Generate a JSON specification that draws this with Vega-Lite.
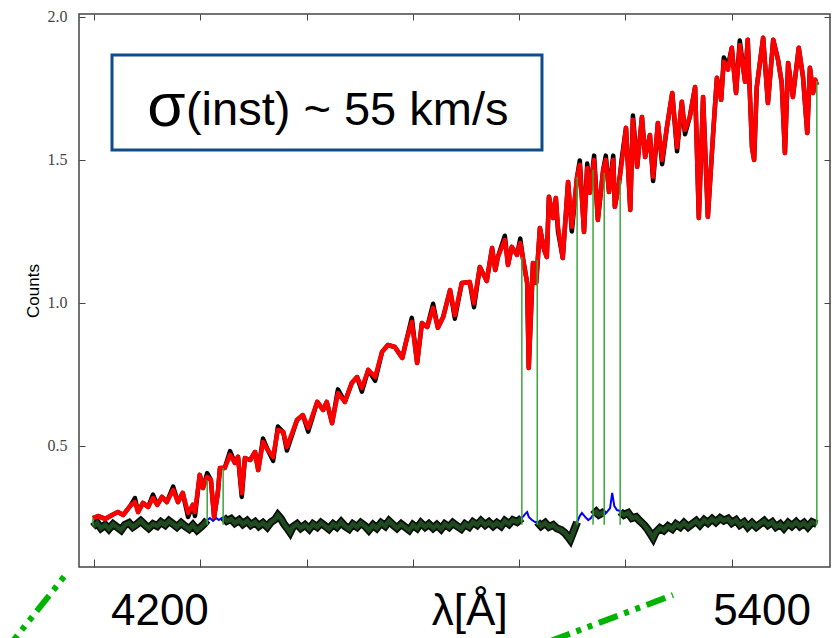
{
"$schema": "https://vega.github.io/schema/vega-lite/v6.json",
"width": 751, "height": 553,
"autosize": {"type": "none"},
"padding": {"left": 79, "top": 14, "right": 2, "bottom": 71},
"background": "white",
"config": {"view": {"stroke": "#444", "strokeWidth": 1.5}, "axis": {"domain": false, "grid": false}},
"datasets": {
"spec": [
{"x":-2,"y":0.248,"g":0.248},{"x":8,"y":0.255,"g":0.255},{"x":21,"y":0.245,"g":0.245},{"x":34,"y":0.259,"g":0.259},{"x":45,"y":0.269,"g":0.269},{"x":55,"y":0.259,"g":0.259},{"x":68,"y":0.290,"g":0.290},{"x":77,"y":0.304,"g":0.318},{"x":83,"y":0.269,"g":0.269},{"x":92,"y":0.301,"g":0.301},{"x":102,"y":0.287,"g":0.287},{"x":111,"y":0.318,"g":0.330},{"x":119,"y":0.294,"g":0.294},{"x":128,"y":0.322,"g":0.322},{"x":137,"y":0.304,"g":0.304},{"x":149,"y":0.346,"g":0.358},{"x":158,"y":0.304,"g":0.304},{"x":167,"y":0.336,"g":0.336},{"x":177,"y":0.266,"g":0.252},{"x":186,"y":0.294,"g":0.294},{"x":190,"y":0.269,"g":0.255},{"x":199,"y":0.399,"g":0.399},{"x":205,"y":0.353,"g":0.353},{"x":213,"y":0.392,"g":0.405},{"x":220,"y":0.381,"g":0.381},{"x":226,"y":0.252,"g":0.252},{"x":233,"y":0.336,"g":0.336},{"x":237,"y":0.423,"g":0.423},{"x":246,"y":0.423,"g":0.423},{"x":256,"y":0.469,"g":0.482},{"x":265,"y":0.441,"g":0.441},{"x":271,"y":0.462,"g":0.462},{"x":278,"y":0.336,"g":0.322},{"x":284,"y":0.458,"g":0.458},{"x":294,"y":0.451,"g":0.451},{"x":303,"y":0.479,"g":0.479},{"x":309,"y":0.416,"g":0.416},{"x":318,"y":0.514,"g":0.526},{"x":327,"y":0.486,"g":0.486},{"x":337,"y":0.462,"g":0.448},{"x":346,"y":0.556,"g":0.568},{"x":356,"y":0.549,"g":0.549},{"x":363,"y":0.497,"g":0.484},{"x":382,"y":0.591,"g":0.591},{"x":393,"y":0.608,"g":0.608},{"x":403,"y":0.563,"g":0.550},{"x":420,"y":0.654,"g":0.654},{"x":431,"y":0.626,"g":0.626},{"x":438,"y":0.654,"g":0.654},{"x":448,"y":0.580,"g":0.580},{"x":459,"y":0.685,"g":0.698},{"x":472,"y":0.654,"g":0.654},{"x":485,"y":0.720,"g":0.720},{"x":495,"y":0.741,"g":0.741},{"x":504,"y":0.703,"g":0.690},{"x":516,"y":0.766,"g":0.766},{"x":529,"y":0.741,"g":0.728},{"x":542,"y":0.829,"g":0.829},{"x":553,"y":0.853,"g":0.853},{"x":566,"y":0.846,"g":0.846},{"x":580,"y":0.808,"g":0.808},{"x":589,"y":0.878,"g":0.878},{"x":598,"y":0.934,"g":0.948},{"x":608,"y":0.790,"g":0.790},{"x":617,"y":0.930,"g":0.930},{"x":627,"y":0.916,"g":0.916},{"x":638,"y":0.983,"g":0.997},{"x":647,"y":0.913,"g":0.913},{"x":657,"y":0.951,"g":0.951},{"x":670,"y":1.045,"g":1.045},{"x":679,"y":0.958,"g":0.945},{"x":692,"y":1.070,"g":1.070},{"x":707,"y":1.073,"g":1.073},{"x":715,"y":1.000,"g":0.985},{"x":726,"y":1.126,"g":1.126},{"x":739,"y":1.077,"g":1.077},{"x":749,"y":1.192,"g":1.192},{"x":755,"y":1.115,"g":1.115},{"x":760,"y":1.161,"g":1.161},{"x":773,"y":1.220,"g":1.235},{"x":779,"y":1.133,"g":1.133},{"x":786,"y":1.196,"g":1.196},{"x":796,"y":1.168,"g":1.168},{"x":802,"y":1.210,"g":1.225},{"x":807,"y":1.157,"g":1.157},{"x":815,"y":1.070,"g":1.070},{"x":818,"y":0.773,"g":0.773},{"x":826,"y":1.140,"g":1.140},{"x":832,"y":1.070,"g":1.070},{"x":839,"y":1.262,"g":1.262},{"x":847,"y":1.185,"g":1.185},{"x":852,"y":1.161,"g":1.161},{"x":856,"y":1.371,"g":1.371},{"x":864,"y":1.297,"g":1.297},{"x":869,"y":1.367,"g":1.367},{"x":873,"y":1.266,"g":1.250},{"x":882,"y":1.157,"g":1.157},{"x":892,"y":1.423,"g":1.423},{"x":899,"y":1.266,"g":1.250},{"x":909,"y":1.441,"g":1.441},{"x":914,"y":1.483,"g":1.498},{"x":922,"y":1.248,"g":1.248},{"x":928,"y":1.472,"g":1.487},{"x":933,"y":1.385,"g":1.385},{"x":941,"y":1.500,"g":1.515},{"x":948,"y":1.290,"g":1.290},{"x":958,"y":1.465,"g":1.465},{"x":963,"y":1.500,"g":1.515},{"x":969,"y":1.388,"g":1.388},{"x":977,"y":1.500,"g":1.515},{"x":980,"y":1.336,"g":1.336},{"x":988,"y":1.420,"g":1.420},{"x":993,"y":1.490,"g":1.505},{"x":1001,"y":1.612,"g":1.612},{"x":1009,"y":1.325,"g":1.325},{"x":1014,"y":1.640,"g":1.655},{"x":1022,"y":1.476,"g":1.476},{"x":1031,"y":1.650,"g":1.650},{"x":1037,"y":1.510,"g":1.510},{"x":1046,"y":1.587,"g":1.587},{"x":1052,"y":1.441,"g":1.426},{"x":1061,"y":1.629,"g":1.629},{"x":1069,"y":1.500,"g":1.485},{"x":1078,"y":1.615,"g":1.615},{"x":1088,"y":1.734,"g":1.734},{"x":1097,"y":1.545,"g":1.530},{"x":1106,"y":1.703,"g":1.703},{"x":1112,"y":1.605,"g":1.590},{"x":1121,"y":1.650,"g":1.650},{"x":1131,"y":1.755,"g":1.755},{"x":1138,"y":1.297,"g":1.297},{"x":1146,"y":1.720,"g":1.720},{"x":1155,"y":1.301,"g":1.301},{"x":1165,"y":1.594,"g":1.594},{"x":1172,"y":1.787,"g":1.787},{"x":1180,"y":1.710,"g":1.710},{"x":1185,"y":1.843,"g":1.858},{"x":1193,"y":1.815,"g":1.830},{"x":1200,"y":1.892,"g":1.892},{"x":1208,"y":1.734,"g":1.734},{"x":1215,"y":1.902,"g":1.917},{"x":1225,"y":1.773,"g":1.773},{"x":1230,"y":1.920,"g":1.920},{"x":1238,"y":1.545,"g":1.545},{"x":1242,"y":1.500,"g":1.500},{"x":1247,"y":1.755,"g":1.755},{"x":1259,"y":1.927,"g":1.927},{"x":1268,"y":1.699,"g":1.699},{"x":1278,"y":1.920,"g":1.920},{"x":1287,"y":1.850,"g":1.850},{"x":1294,"y":1.769,"g":1.769},{"x":1300,"y":1.524,"g":1.524},{"x":1306,"y":1.839,"g":1.839},{"x":1315,"y":1.720,"g":1.720},{"x":1326,"y":1.892,"g":1.892},{"x":1334,"y":1.790,"g":1.790},{"x":1342,"y":1.594,"g":1.594},{"x":1347,"y":1.822,"g":1.822},{"x":1353,"y":1.734,"g":1.734},{"x":1357,"y":1.780,"g":1.780},{"x":1360,"y":1.762,"g":1.762}
],
"res": [
{"x":-2,"y":0.217,"s":1},{"x":6,"y":0.231,"s":1},{"x":13,"y":0.213,"s":1},{"x":21,"y":0.224,"s":1},{"x":28,"y":0.210,"s":1},{"x":36,"y":0.227,"s":1},{"x":43,"y":0.217,"s":1},{"x":51,"y":0.206,"s":1},{"x":58,"y":0.224,"s":1},{"x":66,"y":0.231,"s":1},{"x":73,"y":0.217,"s":1},{"x":81,"y":0.227,"s":1},{"x":88,"y":0.238,"s":1},{"x":96,"y":0.224,"s":1},{"x":103,"y":0.213,"s":1},{"x":111,"y":0.227,"s":1},{"x":119,"y":0.220,"s":1},{"x":126,"y":0.234,"s":1},{"x":134,"y":0.224,"s":1},{"x":141,"y":0.238,"s":1},{"x":149,"y":0.227,"s":1},{"x":156,"y":0.217,"s":1},{"x":164,"y":0.231,"s":1},{"x":171,"y":0.220,"s":1},{"x":179,"y":0.210,"s":1},{"x":186,"y":0.224,"s":1},{"x":194,"y":0.206,"s":1},{"x":201,"y":0.217,"s":1},{"x":207,"y":0.227,"s":1},{"x":213,"y":0.241,"s":1},
{"x":243,"y":0.252,"s":2},{"x":250,"y":0.238,"s":2},{"x":258,"y":0.245,"s":2},{"x":265,"y":0.231,"s":2},{"x":273,"y":0.241,"s":2},{"x":280,"y":0.227,"s":2},{"x":288,"y":0.238,"s":2},{"x":295,"y":0.224,"s":2},{"x":303,"y":0.234,"s":2},{"x":310,"y":0.220,"s":2},{"x":318,"y":0.231,"s":2},{"x":326,"y":0.217,"s":2},{"x":333,"y":0.234,"s":2},{"x":341,"y":0.244,"s":2},{"x":346,"y":0.258,"s":2},{"x":352,"y":0.245,"s":2},{"x":357,"y":0.229,"s":2},{"x":363,"y":0.214,"s":2},{"x":369,"y":0.198,"s":2},{"x":374,"y":0.217,"s":2},{"x":382,"y":0.227,"s":2},{"x":389,"y":0.213,"s":2},{"x":397,"y":0.224,"s":2},{"x":405,"y":0.210,"s":2},{"x":412,"y":0.227,"s":2},{"x":420,"y":0.217,"s":2},{"x":427,"y":0.231,"s":2},{"x":435,"y":0.220,"s":2},{"x":442,"y":0.210,"s":2},{"x":450,"y":0.227,"s":2},{"x":457,"y":0.217,"s":2},{"x":465,"y":0.234,"s":2},{"x":472,"y":0.220,"s":2},{"x":480,"y":0.210,"s":2},{"x":487,"y":0.227,"s":2},{"x":495,"y":0.217,"s":2},{"x":502,"y":0.231,"s":2},{"x":510,"y":0.220,"s":2},{"x":517,"y":0.206,"s":2},{"x":525,"y":0.224,"s":2},{"x":532,"y":0.213,"s":2},{"x":540,"y":0.231,"s":2},{"x":548,"y":0.220,"s":2},{"x":555,"y":0.238,"s":2},{"x":563,"y":0.224,"s":2},{"x":570,"y":0.213,"s":2},{"x":578,"y":0.227,"s":2},{"x":585,"y":0.217,"s":2},{"x":593,"y":0.206,"s":2},{"x":600,"y":0.224,"s":2},{"x":608,"y":0.213,"s":2},{"x":615,"y":0.231,"s":2},{"x":623,"y":0.217,"s":2},{"x":630,"y":0.227,"s":2},{"x":638,"y":0.213,"s":2},{"x":645,"y":0.224,"s":2},{"x":653,"y":0.210,"s":2},{"x":660,"y":0.227,"s":2},{"x":668,"y":0.217,"s":2},{"x":675,"y":0.231,"s":2},{"x":683,"y":0.220,"s":2},{"x":691,"y":0.210,"s":2},{"x":698,"y":0.227,"s":2},{"x":706,"y":0.217,"s":2},{"x":713,"y":0.234,"s":2},{"x":721,"y":0.224,"s":2},{"x":728,"y":0.238,"s":2},{"x":736,"y":0.224,"s":2},{"x":743,"y":0.234,"s":2},{"x":751,"y":0.220,"s":2},{"x":758,"y":0.231,"s":2},{"x":766,"y":0.220,"s":2},{"x":773,"y":0.238,"s":2},{"x":781,"y":0.227,"s":2},{"x":788,"y":0.241,"s":2},{"x":796,"y":0.234,"s":2},{"x":805,"y":0.248,"s":2},
{"x":834,"y":0.234,"s":3},{"x":841,"y":0.220,"s":3},{"x":849,"y":0.231,"s":3},{"x":856,"y":0.217,"s":3},{"x":864,"y":0.224,"s":3},{"x":871,"y":0.212,"s":3},{"x":879,"y":0.206,"s":3},{"x":886,"y":0.196,"s":3},{"x":892,"y":0.182,"s":3},{"x":896,"y":0.172,"s":3},{"x":899,"y":0.186,"s":3},{"x":905,"y":0.215,"s":3},{"x":909,"y":0.234,"s":3},
{"x":939,"y":0.259,"s":4},{"x":945,"y":0.270,"s":4},{"x":950,"y":0.260,"s":4},{"x":956,"y":0.266,"s":4},{"x":960,"y":0.259,"s":4},
{"x":990,"y":0.270,"s":5},{"x":997,"y":0.259,"s":5},{"x":1005,"y":0.266,"s":5},{"x":1012,"y":0.248,"s":5},{"x":1020,"y":0.252,"s":5},{"x":1027,"y":0.238,"s":5},{"x":1035,"y":0.224,"s":5},{"x":1042,"y":0.208,"s":5},{"x":1048,"y":0.190,"s":5},{"x":1052,"y":0.178,"s":5},{"x":1057,"y":0.198,"s":5},{"x":1065,"y":0.213,"s":5},{"x":1072,"y":0.205,"s":5},{"x":1080,"y":0.220,"s":5},{"x":1088,"y":0.210,"s":5},{"x":1095,"y":0.227,"s":5},{"x":1103,"y":0.217,"s":5},{"x":1110,"y":0.231,"s":5},{"x":1118,"y":0.217,"s":5},{"x":1125,"y":0.227,"s":5},{"x":1133,"y":0.238,"s":5},{"x":1140,"y":0.224,"s":5},{"x":1148,"y":0.241,"s":5},{"x":1155,"y":0.231,"s":5},{"x":1163,"y":0.245,"s":5},{"x":1170,"y":0.234,"s":5},{"x":1178,"y":0.248,"s":5},{"x":1185,"y":0.239,"s":5},{"x":1193,"y":0.246,"s":5},{"x":1200,"y":0.231,"s":5},{"x":1208,"y":0.241,"s":5},{"x":1215,"y":0.224,"s":5},{"x":1223,"y":0.234,"s":5},{"x":1230,"y":0.217,"s":5},{"x":1238,"y":0.231,"s":5},{"x":1246,"y":0.217,"s":5},{"x":1253,"y":0.227,"s":5},{"x":1261,"y":0.238,"s":5},{"x":1268,"y":0.224,"s":5},{"x":1276,"y":0.234,"s":5},{"x":1283,"y":0.217,"s":5},{"x":1291,"y":0.227,"s":5},{"x":1298,"y":0.213,"s":5},{"x":1306,"y":0.231,"s":5},{"x":1313,"y":0.220,"s":5},{"x":1321,"y":0.234,"s":5},{"x":1328,"y":0.220,"s":5},{"x":1336,"y":0.231,"s":5},{"x":1343,"y":0.217,"s":5},{"x":1351,"y":0.234,"s":5},{"x":1360,"y":0.227,"s":5}
],
"blue": [
{"x":213,"y":0.241,"s":1},{"x":218,"y":0.248,"s":1},{"x":224,"y":0.238,"s":1},{"x":230,"y":0.248,"s":1},{"x":235,"y":0.241,"s":1},{"x":243,"y":0.252,"s":1},
{"x":805,"y":0.248,"s":2},{"x":811,"y":0.262,"s":2},{"x":815,"y":0.269,"s":2},{"x":818,"y":0.252,"s":2},{"x":824,"y":0.241,"s":2},{"x":830,"y":0.234,"s":2},{"x":834,"y":0.234,"s":2},
{"x":909,"y":0.234,"s":3},{"x":914,"y":0.255,"s":3},{"x":918,"y":0.266,"s":3},{"x":924,"y":0.252,"s":3},{"x":930,"y":0.241,"s":3},{"x":935,"y":0.248,"s":3},{"x":939,"y":0.259,"s":3},
{"x":960,"y":0.259,"s":4},{"x":965,"y":0.269,"s":4},{"x":971,"y":0.283,"s":4},{"x":975,"y":0.336,"s":4},{"x":979,"y":0.290,"s":4},{"x":984,"y":0.276,"s":4},{"x":990,"y":0.273,"s":4}
],
"rules": [
{"x":-2,"y":0.225,"y2":0.248},{"x":213,"y":0.225,"y2":0.381},{"x":243,"y":0.225,"y2":0.423},{"x":805,"y":0.225,"y2":1.161},{"x":834,"y":0.225,"y2":1.150},{"x":909,"y":0.225,"y2":1.441},{"x":939,"y":0.225,"y2":1.465},{"x":960,"y":0.225,"y2":1.455},{"x":990,"y":0.225,"y2":1.430},{"x":1360,"y":0.225,"y2":1.776}
],
"box": [{"x":33.9,"x2":842.9,"y":1.535,"y2":1.867}],
"sig": [{"x":100,"y":1.618,"t":"σ"}],
"inst": [{"x":173,"y":1.622,"t":"(inst) ~ 55 km/s"}],
"lab": [{"x":124,"y":-0.126,"t":"4200"},{"x":707,"y":-0.126,"t":"λ[Å]"},{"x":1257,"y":-0.126,"t":"5400"}],
"dash": [
{"x":-167.5,"y":-0.217,"k":"L"},{"x":-50.8,"y":0.056,"k":"L"},
{"x":860,"y":-0.181,"k":"R"},{"x":1089.4,"y":-0.021,"k":"R"}
]
},
"encoding": {
"x": {"field": "x", "type": "quantitative", "scale": {"domain": [-28.2, 1384.8], "nice": false, "zero": false}, "axis": null},
"y": {"field": "y", "type": "quantitative", "scale": {"domain": [0.077, 2.01], "nice": false, "zero": false}, "axis": null}
},
"layer": [
{"data": {"name": "res"}, "mark": {"type": "line", "color": "#0a0f0a", "strokeWidth": 8, "strokeJoin": "miter"},
 "encoding": {
  "x": {"field": "x", "type": "quantitative", "scale": {"domain": [-28.2, 1384.8], "nice": false, "zero": false},
        "axis": {"orient": "bottom", "values": [0,200,400,600,800,1000,1200], "labels": false, "ticks": true, "tickSize": -8, "tickColor": "#444", "tickWidth": 1, "title": null, "domain": false}},
  "y": {"field": "y", "type": "quantitative", "scale": {"domain": [0.077, 2.01], "nice": false, "zero": false},
        "axis": {"orient": "left", "values": [0.5,1,1.5,2], "format": ".1f", "ticks": true, "tickSize": -6, "tickColor": "#444", "labelPadding": 18, "labelFont": "Liberation Serif", "labelFontSize": 16, "labelColor": "#444", "title": "Counts", "titleFont": "Liberation Sans", "titleFontSize": 17, "titleFontWeight": "normal", "titleColor": "#000", "titlePadding": 5, "domain": false}},
  "detail": {"field": "s"}
 }},
{"data": {"name": "res"}, "mark": {"type": "line", "color": "#1f4a1f", "strokeWidth": 4.5, "strokeJoin": "miter"},
 "encoding": {"detail": {"field": "s"}}},
{"data": {"name": "blue"}, "mark": {"type": "line", "color": "#0000ff", "strokeWidth": 2},
 "encoding": {"detail": {"field": "s"}}},
{"data": {"name": "spec"}, "mark": {"type": "line", "color": "#000", "strokeWidth": 4.5, "strokeJoin": "round"},
 "encoding": {"y": {"field": "g", "type": "quantitative", "scale": {"domain": [0.077, 2.01], "nice": false, "zero": false}, "axis": null}}},
{"data": {"name": "spec"}, "mark": {"type": "line", "color": "#ff0000", "strokeWidth": 4.5, "strokeJoin": "round"},
 "encoding": {}},
{"data": {"name": "rules"}, "mark": {"type": "rule", "color": "#3aa53a", "strokeWidth": 1.5},
 "encoding": {
  "x": {"field": "x", "type": "quantitative", "scale": {"domain": [-28.2, 1384.8], "nice": false, "zero": false},
        "axis": {"orient": "top", "values": [0,200,400,600,800,1000,1200], "labels": false, "ticks": true, "tickSize": -6, "tickColor": "#444", "title": null, "domain": false}},
  "y": {"field": "y", "type": "quantitative", "scale": {"domain": [0.077, 2.01], "nice": false, "zero": false},
        "axis": {"orient": "right", "values": [0.5,1,1.5,2], "labels": false, "ticks": true, "tickSize": -6, "tickColor": "#444", "title": null, "domain": false}},
  "y2": {"field": "y2"}
 }},
{"data": {"name": "box"}, "mark": {"type": "rect", "fill": "white", "stroke": "#0f4c8a", "strokeWidth": 3},
 "encoding": {"x2": {"field": "x2"}, "y2": {"field": "y2"}}},
{"data": {"name": "sig"}, "mark": {"type": "text", "font": "Liberation Sans", "fontSize": 62, "align": "left", "baseline": "alphabetic", "color": "#000"},
 "encoding": {"text": {"field": "t"}}},
{"data": {"name": "inst"}, "mark": {"type": "text", "font": "Liberation Sans", "fontSize": 47, "align": "left", "baseline": "alphabetic", "color": "#000"},
 "encoding": {"text": {"field": "t"}}},
{"data": {"name": "lab"}, "mark": {"type": "text", "font": "Liberation Sans", "fontSize": 44, "align": "center", "baseline": "alphabetic", "color": "#000"},
 "encoding": {"text": {"field": "t"}}},
{"data": {"name": "dash"}, "mark": {"type": "line", "color": "#00b400", "strokeWidth": 6, "strokeDash": [20, 7, 5, 7, 5, 7], "strokeCap": "butt"},
 "encoding": {"detail": {"field": "k"}}}
],
"resolve": {"axis": {"x": "independent", "y": "independent"}}
}
